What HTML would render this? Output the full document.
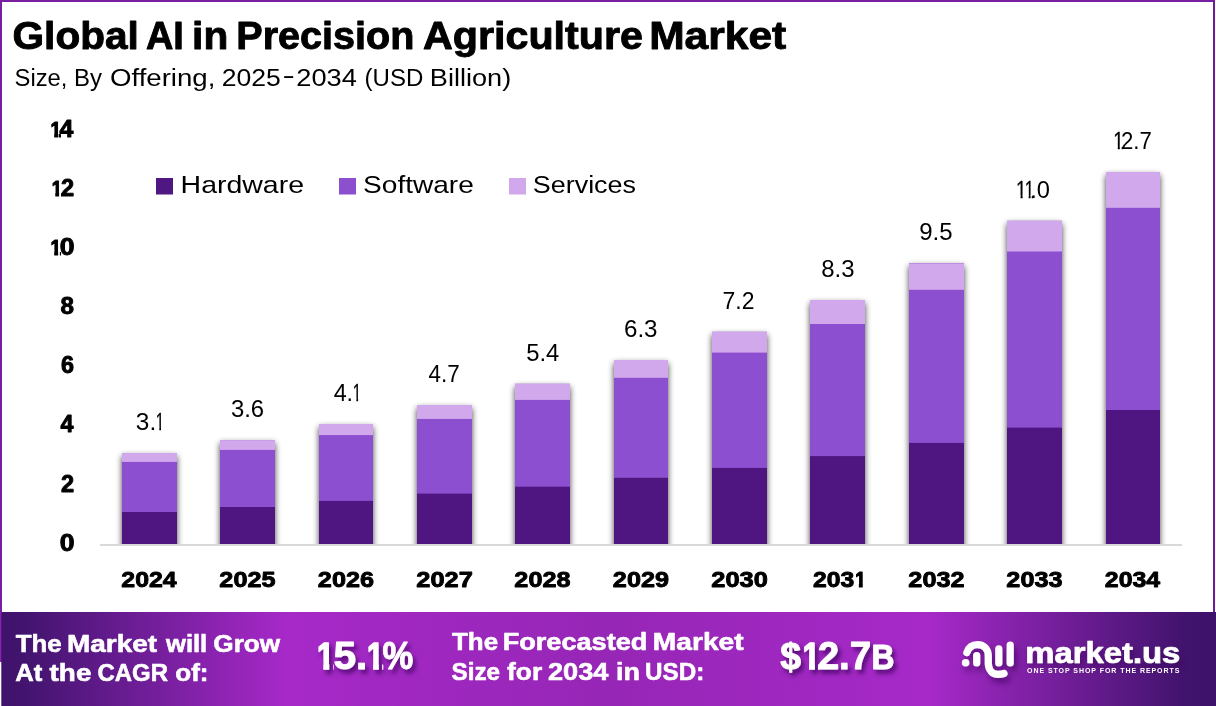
<!DOCTYPE html>
<html lang="en">
<head>
<meta charset="utf-8">
<title>Global AI in Precision Agriculture Market</title>
<style>
html,body{margin:0;padding:0;background:#fff;}
body{width:1216px;height:706px;overflow:hidden;font-family:'Liberation Sans', sans-serif;}
svg{display:block;position:absolute;left:0;top:0;}
text{font-family:'Liberation Sans', sans-serif;white-space:pre;}
.b{font-weight:bold;}
</style>
</head>
<body>
<svg width="1216" height="706" viewBox="0 0 1216 706">
<defs>
<linearGradient id="fg" x1="0" y1="0" x2="1" y2="0">
<stop offset="0" stop-color="#3f126b"/>
<stop offset="0.02" stop-color="#42146f"/>
<stop offset="0.235" stop-color="#a629c8"/>
<stop offset="0.5" stop-color="#9626b6"/>
<stop offset="0.765" stop-color="#a629c8"/>
<stop offset="0.975" stop-color="#41136d"/>
<stop offset="1" stop-color="#3d126a"/>
</linearGradient>
<filter id="bs" filterUnits="userSpaceOnUse" x="0" y="0" width="1216" height="706">
<feGaussianBlur in="SourceAlpha" stdDeviation="3.2"/>
<feOffset dx="0" dy="2.5"/>
<feComponentTransfer><feFuncA type="linear" slope="0.75"/></feComponentTransfer>
<feMerge><feMergeNode/><feMergeNode in="SourceGraphic"/></feMerge>
</filter>
<filter id="ts" x="-20%" y="-30%" width="140%" height="180%">
<feGaussianBlur in="SourceAlpha" stdDeviation="2"/>
<feOffset dx="3" dy="4" result="o"/>
<feFlood flood-color="#3a0a5a" flood-opacity="0.7"/>
<feComposite in2="o" operator="in"/>
<feMerge><feMergeNode/><feMergeNode in="SourceGraphic"/></feMerge>
</filter>
<filter id="ls" x="-20%" y="-30%" width="140%" height="190%">
<feGaussianBlur in="SourceAlpha" stdDeviation="3"/>
<feOffset dx="3" dy="5" result="o"/>
<feFlood flood-color="#3a0a5a" flood-opacity="0.6"/>
<feComposite in2="o" operator="in"/>
<feMerge><feMergeNode/><feMergeNode in="SourceGraphic"/></feMerge>
</filter>
<clipPath id="pc"><rect x="0" y="0" width="1216" height="544"/></clipPath>
</defs>
<rect x="0" y="0" width="1216" height="706" fill="#ffffff"/>

<rect x="0" y="0" width="1215" height="2" fill="#7a1ea1"/>
<rect x="0" y="0" width="2" height="660" fill="#7a1ea1"/>
<rect x="1213" y="0" width="2" height="612" fill="#701a9c"/>
<text class="b" y="48.95" font-size="38" fill="#000" stroke="#000" stroke-width="0.9" stroke-linejoin="round"><tspan x="12.58" textLength="126.16" lengthAdjust="spacingAndGlyphs">Global</tspan> <tspan x="145.96" textLength="37.83" lengthAdjust="spacingAndGlyphs">AI</tspan> <tspan x="192.11" textLength="36.10" lengthAdjust="spacingAndGlyphs">in</tspan> <tspan x="236.28" textLength="178.08" lengthAdjust="spacingAndGlyphs">Precision</tspan> <tspan x="422.91" textLength="220.17" lengthAdjust="spacingAndGlyphs">Agriculture</tspan> <tspan x="649.19" textLength="137.07" lengthAdjust="spacingAndGlyphs">Market</tspan></text>
<text y="85.50" font-size="24.8" fill="#000"><tspan x="14.56" y="85.50" textLength="52.92" lengthAdjust="spacingAndGlyphs">Size,</tspan> <tspan x="74.03" y="85.50" textLength="27.97" lengthAdjust="spacingAndGlyphs">By</tspan> <tspan x="110.01" y="85.50" textLength="105.36" lengthAdjust="spacingAndGlyphs">Offering,</tspan> <tspan x="221.65" y="85.50" textLength="59.12" lengthAdjust="spacingAndGlyphs">2025</tspan><tspan x="282.45" y="82.70" textLength="12.29" lengthAdjust="spacingAndGlyphs">-</tspan><tspan x="296.32" y="85.50" textLength="60.55" lengthAdjust="spacingAndGlyphs">2034</tspan> <tspan x="364.57" y="85.50" textLength="58.76" lengthAdjust="spacingAndGlyphs">(USD</tspan> <tspan x="429.88" y="85.50" textLength="81.32" lengthAdjust="spacingAndGlyphs">Billion)</tspan></text>
<rect x="0" y="612" width="1216" height="94" fill="url(#fg)"/>
<rect x="0" y="612" width="1.3" height="50" fill="#8a22b0"/>
<rect x="0" y="662" width="1.3" height="44" fill="#ffffff"/>
<rect x="156" y="178" width="17" height="16.5" fill="#4f1782"/>
<text y="193.10" font-size="24.4" fill="#000"><tspan x="180.57" textLength="123.48" lengthAdjust="spacingAndGlyphs">Hardware</tspan></text>
<rect x="339" y="178" width="17" height="16.5" fill="#8c50cf"/>
<text y="193.10" font-size="24.4" fill="#000"><tspan x="363.12" textLength="110.71" lengthAdjust="spacingAndGlyphs">Software</tspan></text>
<rect x="509" y="178" width="17" height="16.5" fill="#d2a8ec"/>
<text y="193.10" font-size="24.4" fill="#000"><tspan x="532.76" textLength="103.28" lengthAdjust="spacingAndGlyphs">Services</tspan></text>
<clipPath id="c1"><path clip-rule="evenodd" d="M0 0H1216V706H0ZM50.36 133.63H54.24V139.20H50.36ZM58.10 133.63H58.80V139.20H58.10Z"/></clipPath>
<text class="b" clip-path="url(#c1)" y="136.95" font-size="23.4" fill="#000" stroke="#000" stroke-width="0.9" stroke-linejoin="round"><tspan x="50.42" font-size="22.6" stroke="#000" stroke-width="1.2" stroke-linejoin="round" y="137.00" textLength="10.58" lengthAdjust="spacingAndGlyphs">1</tspan><tspan x="59.55" y="136.95" textLength="13.84" lengthAdjust="spacingAndGlyphs">4</tspan></text>
<clipPath id="c2"><path clip-rule="evenodd" d="M0 0H1216V706H0ZM51.56 192.73H55.33V198.30H51.56ZM59.10 192.73H61.00V198.30H59.10Z"/></clipPath>
<text class="b" clip-path="url(#c2)" y="196.05" font-size="23.4" fill="#000" stroke="#000" stroke-width="0.9" stroke-linejoin="round"><tspan x="51.66" font-size="22.6" stroke="#000" stroke-width="1.2" stroke-linejoin="round" y="196.10" textLength="10.21" lengthAdjust="spacingAndGlyphs">1</tspan><tspan x="61.01" y="196.05" textLength="13.13" lengthAdjust="spacingAndGlyphs">2</tspan></text>
<clipPath id="c3"><path clip-rule="evenodd" d="M0 0H1216V706H0ZM50.36 251.83H54.24V257.40H50.36ZM58.10 251.83H59.90V257.40H58.10Z"/></clipPath>
<text class="b" clip-path="url(#c3)" y="255.15" font-size="23.4" fill="#000" stroke="#000" stroke-width="0.9" stroke-linejoin="round"><tspan x="50.42" font-size="22.6" stroke="#000" stroke-width="1.2" stroke-linejoin="round" y="255.20" textLength="10.58" lengthAdjust="spacingAndGlyphs">1</tspan><tspan x="59.82" y="255.15" textLength="14.81" lengthAdjust="spacingAndGlyphs">0</tspan></text>
<text class="b" y="314.25" font-size="23.4" fill="#000" stroke="#000" stroke-width="0.9" stroke-linejoin="round"><tspan x="60.49" textLength="13.46" lengthAdjust="spacingAndGlyphs">8</tspan></text>
<text class="b" y="373.35" font-size="23.4" fill="#000" stroke="#000" stroke-width="0.9" stroke-linejoin="round"><tspan x="60.92" textLength="13.01" lengthAdjust="spacingAndGlyphs">6</tspan></text>
<text class="b" y="432.45" font-size="23.4" fill="#000" stroke="#000" stroke-width="0.9" stroke-linejoin="round"><tspan x="60.45" textLength="12.95" lengthAdjust="spacingAndGlyphs">4</tspan></text>
<text class="b" y="491.55" font-size="23.4" fill="#000" stroke="#000" stroke-width="0.9" stroke-linejoin="round"><tspan x="61.01" textLength="13.13" lengthAdjust="spacingAndGlyphs">2</tspan></text>
<text class="b" y="550.65" font-size="23.4" fill="#000" stroke="#000" stroke-width="0.9" stroke-linejoin="round"><tspan x="59.82" textLength="14.81" lengthAdjust="spacingAndGlyphs">0</tspan></text>
<g clip-path="url(#pc)">
<g filter="url(#bs)">
<rect x="122.0" y="453.0" width="55" height="103.0" fill="#4f1782"/>
<rect x="122.0" y="453.0" width="55" height="59.0" fill="#8c50cf"/>
<rect x="122.0" y="453.0" width="55" height="8.9" fill="#d2a8ec"/>
</g>
<g filter="url(#bs)">
<rect x="220.0" y="440.1" width="55" height="115.9" fill="#4f1782"/>
<rect x="220.0" y="440.1" width="55" height="66.9" fill="#8c50cf"/>
<rect x="220.0" y="440.1" width="55" height="9.8" fill="#d2a8ec"/>
</g>
<g filter="url(#bs)">
<rect x="319.0" y="424.0" width="54" height="132.0" fill="#4f1782"/>
<rect x="319.0" y="424.0" width="54" height="76.9" fill="#8c50cf"/>
<rect x="319.0" y="424.0" width="54" height="11.1" fill="#d2a8ec"/>
</g>
<g filter="url(#bs)">
<rect x="417.0" y="405.0" width="55" height="151.0" fill="#4f1782"/>
<rect x="417.0" y="405.0" width="55" height="88.6" fill="#8c50cf"/>
<rect x="417.0" y="405.0" width="55" height="13.9" fill="#d2a8ec"/>
</g>
<g filter="url(#bs)">
<rect x="515.0" y="383.9" width="55" height="172.1" fill="#4f1782"/>
<rect x="515.0" y="383.9" width="55" height="102.8" fill="#8c50cf"/>
<rect x="515.0" y="383.9" width="55" height="16.0" fill="#d2a8ec"/>
</g>
<g filter="url(#bs)">
<rect x="614.0" y="360.0" width="54" height="196.0" fill="#4f1782"/>
<rect x="614.0" y="360.0" width="54" height="117.8" fill="#8c50cf"/>
<rect x="614.0" y="360.0" width="54" height="17.8" fill="#d2a8ec"/>
</g>
<g filter="url(#bs)">
<rect x="712.0" y="331.9" width="55" height="224.1" fill="#4f1782"/>
<rect x="712.0" y="331.9" width="55" height="136.0" fill="#8c50cf"/>
<rect x="712.0" y="331.9" width="55" height="20.7" fill="#d2a8ec"/>
</g>
<g filter="url(#bs)">
<rect x="810.0" y="300.0" width="55" height="256.0" fill="#4f1782"/>
<rect x="810.0" y="300.0" width="55" height="156.1" fill="#8c50cf"/>
<rect x="810.0" y="300.0" width="55" height="24.0" fill="#d2a8ec"/>
</g>
<g filter="url(#bs)">
<rect x="909.0" y="263.3" width="55" height="292.7" fill="#4f1782"/>
<rect x="909.0" y="263.3" width="55" height="179.6" fill="#8c50cf"/>
<rect x="909.0" y="263.3" width="55" height="26.5" fill="#d2a8ec"/>
</g>
<g filter="url(#bs)">
<rect x="1007.0" y="220.9" width="55" height="335.1" fill="#4f1782"/>
<rect x="1007.0" y="220.9" width="55" height="206.7" fill="#8c50cf"/>
<rect x="1007.0" y="220.9" width="55" height="30.6" fill="#d2a8ec"/>
</g>
<g filter="url(#bs)">
<rect x="1106.0" y="172.0" width="54" height="384.0" fill="#4f1782"/>
<rect x="1106.0" y="172.0" width="54" height="238.0" fill="#8c50cf"/>
<rect x="1106.0" y="172.0" width="54" height="35.8" fill="#d2a8ec"/>
</g>
</g>
<rect x="100" y="544" width="1082" height="2" fill="#d9d9d9"/>
<clipPath id="c4"><path clip-rule="evenodd" d="M0 0H1216V706H0ZM156.02 427.56H159.34V431.70H156.02ZM161.00 427.56H164.17V431.70H161.00Z"/></clipPath>
<text clip-path="url(#c4)" y="430.10" font-size="23.8" fill="#000"><tspan x="135.84" y="430.10" textLength="20.37" lengthAdjust="spacingAndGlyphs">3.</tspan><tspan x="155.72" stroke="#000" stroke-width="0.3" stroke-linejoin="round" y="429.95" textLength="8.40" lengthAdjust="spacingAndGlyphs">1</tspan></text>
<text class="b" y="587.25" font-size="22.6" fill="#000" stroke="#000" stroke-width="0.9" stroke-linejoin="round"><tspan x="121.37" textLength="55.32" lengthAdjust="spacingAndGlyphs">2024</tspan></text>
<text y="417.20" font-size="23.8" fill="#000"><tspan x="230.95" textLength="33.22" lengthAdjust="spacingAndGlyphs">3.6</tspan></text>
<text class="b" y="587.25" font-size="22.6" fill="#000" stroke="#000" stroke-width="0.9" stroke-linejoin="round"><tspan x="219.36" textLength="56.12" lengthAdjust="spacingAndGlyphs">2025</tspan></text>
<clipPath id="c5"><path clip-rule="evenodd" d="M0 0H1216V706H0ZM353.12 398.56H356.44V402.70H353.12ZM358.10 398.56H361.27V402.70H358.10Z"/></clipPath>
<text clip-path="url(#c5)" y="401.10" font-size="23.8" fill="#000"><tspan x="333.64" y="401.10" textLength="19.47" lengthAdjust="spacingAndGlyphs">4.</tspan><tspan x="352.82" stroke="#000" stroke-width="0.3" stroke-linejoin="round" y="400.95" textLength="8.40" lengthAdjust="spacingAndGlyphs">1</tspan></text>
<text class="b" y="587.25" font-size="22.6" fill="#000" stroke="#000" stroke-width="0.9" stroke-linejoin="round"><tspan x="317.86" textLength="56.12" lengthAdjust="spacingAndGlyphs">2026</tspan></text>
<text y="382.10" font-size="23.8" fill="#000"><tspan x="428.55" textLength="31.16" lengthAdjust="spacingAndGlyphs">4.7</tspan></text>
<text class="b" y="587.25" font-size="22.6" fill="#000" stroke="#000" stroke-width="0.9" stroke-linejoin="round"><tspan x="416.36" textLength="56.52" lengthAdjust="spacingAndGlyphs">2027</tspan></text>
<text y="361.00" font-size="23.8" fill="#000"><tspan x="526.26" textLength="33.14" lengthAdjust="spacingAndGlyphs">5.4</tspan></text>
<text class="b" y="587.25" font-size="22.6" fill="#000" stroke="#000" stroke-width="0.9" stroke-linejoin="round"><tspan x="514.36" textLength="56.12" lengthAdjust="spacingAndGlyphs">2028</tspan></text>
<text y="337.10" font-size="23.8" fill="#000"><tspan x="623.97" textLength="33.61" lengthAdjust="spacingAndGlyphs">6.3</tspan></text>
<text class="b" y="587.25" font-size="22.6" fill="#000" stroke="#000" stroke-width="0.9" stroke-linejoin="round"><tspan x="612.86" textLength="56.12" lengthAdjust="spacingAndGlyphs">2029</tspan></text>
<text y="309.00" font-size="23.8" fill="#000"><tspan x="722.62" textLength="31.91" lengthAdjust="spacingAndGlyphs">7.2</tspan></text>
<text class="b" y="587.25" font-size="22.6" fill="#000" stroke="#000" stroke-width="0.9" stroke-linejoin="round"><tspan x="711.36" textLength="56.52" lengthAdjust="spacingAndGlyphs">2030</tspan></text>
<text y="277.10" font-size="23.8" fill="#000"><tspan x="821.25" textLength="33.32" lengthAdjust="spacingAndGlyphs">8.3</tspan></text>
<clipPath id="c6"><path clip-rule="evenodd" d="M0 0H1216V706H0ZM855.06 583.93H858.88V589.50H855.06ZM862.70 583.93H866.34V589.50H862.70Z"/></clipPath>
<text class="b" clip-path="url(#c6)" y="587.25" font-size="22.6" fill="#000" stroke="#000" stroke-width="0.9" stroke-linejoin="round"><tspan x="813.08" y="587.25" textLength="41.19" lengthAdjust="spacingAndGlyphs">203</tspan><tspan x="855.14" font-size="22.6" stroke="#000" stroke-width="1.2" stroke-linejoin="round" y="587.30" textLength="10.39" lengthAdjust="spacingAndGlyphs">1</tspan></text>
<text y="240.40" font-size="23.8" fill="#000"><tspan x="919.27" textLength="33.40" lengthAdjust="spacingAndGlyphs">9.5</tspan></text>
<text class="b" y="587.25" font-size="22.6" fill="#000" stroke="#000" stroke-width="0.9" stroke-linejoin="round"><tspan x="908.36" textLength="56.12" lengthAdjust="spacingAndGlyphs">2032</tspan></text>
<clipPath id="c7"><path clip-rule="evenodd" d="M0 0H1216V706H0ZM1016.63 195.46H1020.61V199.60H1016.63ZM1022.60 195.46H1028.69V199.60H1022.60ZM1030.50 195.46H1031.80V199.60H1030.50Z"/></clipPath>
<text clip-path="url(#c7)" y="198.00" font-size="23.8" fill="#000"><tspan x="1016.07" stroke="#000" stroke-width="0.3" stroke-linejoin="round" y="197.85" textLength="10.44" lengthAdjust="spacingAndGlyphs">1</tspan><tspan x="1024.66" stroke="#000" stroke-width="0.3" stroke-linejoin="round" y="197.85" textLength="9.31" lengthAdjust="spacingAndGlyphs">1</tspan><tspan x="1030.25" y="198.00" textLength="19.74" lengthAdjust="spacingAndGlyphs">.0</tspan></text>
<text class="b" y="587.25" font-size="22.6" fill="#000" stroke="#000" stroke-width="0.9" stroke-linejoin="round"><tspan x="1006.36" textLength="56.12" lengthAdjust="spacingAndGlyphs">2033</tspan></text>
<clipPath id="c8"><path clip-rule="evenodd" d="M0 0H1216V706H0ZM1113.83 146.56H1117.81V150.70H1113.83ZM1119.80 146.56H1121.70V150.70H1119.80Z"/></clipPath>
<text clip-path="url(#c8)" y="149.10" font-size="23.8" fill="#000"><tspan x="1113.27" stroke="#000" stroke-width="0.3" stroke-linejoin="round" y="148.95" textLength="10.44" lengthAdjust="spacingAndGlyphs">1</tspan><tspan x="1120.96" y="149.10" textLength="30.84" lengthAdjust="spacingAndGlyphs">2.7</tspan></text>
<text class="b" y="587.25" font-size="22.6" fill="#000" stroke="#000" stroke-width="0.9" stroke-linejoin="round"><tspan x="1104.87" textLength="55.32" lengthAdjust="spacingAndGlyphs">2034</tspan></text>
<text class="b" y="651.50" font-size="24.6" fill="#fff" stroke="#fff" stroke-width="0.6" stroke-linejoin="round"><tspan x="15.70" textLength="45.94" lengthAdjust="spacingAndGlyphs">The</tspan> <tspan x="67.05" textLength="90.08" lengthAdjust="spacingAndGlyphs">Market</tspan> <tspan x="166.00" textLength="41.21" lengthAdjust="spacingAndGlyphs">will</tspan> <tspan x="213.28" textLength="66.93" lengthAdjust="spacingAndGlyphs">Grow</tspan></text>
<text class="b" y="681.40" font-size="24.6" fill="#fff" stroke="#fff" stroke-width="0.6" stroke-linejoin="round"><tspan x="15.30" textLength="27.13" lengthAdjust="spacingAndGlyphs">At</tspan> <tspan x="49.60" textLength="41.79" lengthAdjust="spacingAndGlyphs">the</tspan> <tspan x="97.55" textLength="70.40" lengthAdjust="spacingAndGlyphs">CAGR</tspan> <tspan x="175.29" textLength="33.17" lengthAdjust="spacingAndGlyphs">of:</tspan></text>
<text class="b" y="649.70" font-size="24.6" fill="#fff" stroke="#fff" stroke-width="0.6" stroke-linejoin="round"><tspan x="452.00" textLength="46.04" lengthAdjust="spacingAndGlyphs">The</tspan> <tspan x="502.71" textLength="144.63" lengthAdjust="spacingAndGlyphs">Forecasted</tspan> <tspan x="652.84" textLength="90.80" lengthAdjust="spacingAndGlyphs">Market</tspan></text>
<text class="b" y="679.80" font-size="24.6" fill="#fff" stroke="#fff" stroke-width="0.6" stroke-linejoin="round"><tspan x="451.62" textLength="48.48" lengthAdjust="spacingAndGlyphs">Size</tspan> <tspan x="507.09" textLength="35.08" lengthAdjust="spacingAndGlyphs">for</tspan> <tspan x="547.95" textLength="60.48" lengthAdjust="spacingAndGlyphs">2034</tspan> <tspan x="615.91" textLength="23.99" lengthAdjust="spacingAndGlyphs">in</tspan> <tspan x="645.07" textLength="59.14" lengthAdjust="spacingAndGlyphs">USD:</tspan></text>
<g filter="url(#ts)">
<clipPath id="c9"><path clip-rule="evenodd" d="M0 0H1216V706H0ZM317.47 663.62H323.33V671.10H317.47ZM329.20 663.62H333.30V671.10H329.20ZM367.38 663.62H373.07V671.10H367.38ZM378.80 663.62H382.20V671.10H378.80Z"/></clipPath>
<text class="b" clip-path="url(#c9)" y="668.55" font-size="39" fill="#fff" stroke="#fff" stroke-width="0.9" stroke-linejoin="round"><tspan x="317.04" font-size="37" stroke="#fff" stroke-width="1.6" stroke-linejoin="round" y="668.70" textLength="16.96" lengthAdjust="spacingAndGlyphs">1</tspan><tspan x="333.41" y="668.55" textLength="33.94" lengthAdjust="spacingAndGlyphs">5.</tspan><tspan x="367.01" font-size="37" stroke="#fff" stroke-width="1.6" stroke-linejoin="round" y="668.70" textLength="16.41" lengthAdjust="spacingAndGlyphs">1</tspan><tspan x="382.41" y="668.55" textLength="30.73" lengthAdjust="spacingAndGlyphs">%</tspan></text>
<clipPath id="c10"><path clip-rule="evenodd" d="M0 0H1216V706H0ZM803.17 663.92H809.03V671.40H803.17ZM814.90 663.92H818.10V671.40H814.90Z"/></clipPath>
<text class="b" clip-path="url(#c10)" y="668.85" font-size="39" fill="#fff" stroke="#fff" stroke-width="0.9" stroke-linejoin="round"><tspan x="780.25" font-size="36" y="668.85" textLength="20.75" lengthAdjust="spacingAndGlyphs">$</tspan><tspan x="802.74" font-size="37" stroke="#fff" stroke-width="1.6" stroke-linejoin="round" y="669.00" textLength="16.96" lengthAdjust="spacingAndGlyphs">1</tspan><tspan x="817.64" y="668.85" textLength="53.67" lengthAdjust="spacingAndGlyphs">2.7</tspan><tspan x="871.46" font-size="35.2" y="668.85" textLength="22.99" lengthAdjust="spacingAndGlyphs">B</tspan></text>
</g>
<g filter="url(#ls)">
<g fill="none" stroke="#fff" stroke-width="7.2" stroke-linecap="round" stroke-linejoin="round">
<path d="M 966.8 652.6 C 968.5 647.8 972.5 644.7 977.5 644.7 C 984 644.7 988.3 649.3 988.3 656 L 988.3 663 C 988.3 670 992.5 674.4 998 674.4 C 1000 674.4 1002 674.2 1004 673.5"/>
<path d="M 976.7 655.5 L 976.7 663"/>
<path d="M 998.8 648.8 L 998.8 663"/>
<path d="M 1010.2 645 L 1010.2 663"/>
</g>
<circle cx="965.6" cy="662.7" r="3.8" fill="#fff"/>
<text class="b" y="662.55" font-size="28.9" fill="#fff" stroke="#fff" stroke-width="0.7" stroke-linejoin="round"><tspan x="1025.30" textLength="155.08" lengthAdjust="spacingAndGlyphs">market.us</tspan></text>
</g>
<text class="b" x="1027" y="672.5" font-size="7" fill="#fff" textLength="152.4" lengthAdjust="spacing">ONE STOP SHOP FOR THE REPORTS</text>
</svg>
</body>
</html>
